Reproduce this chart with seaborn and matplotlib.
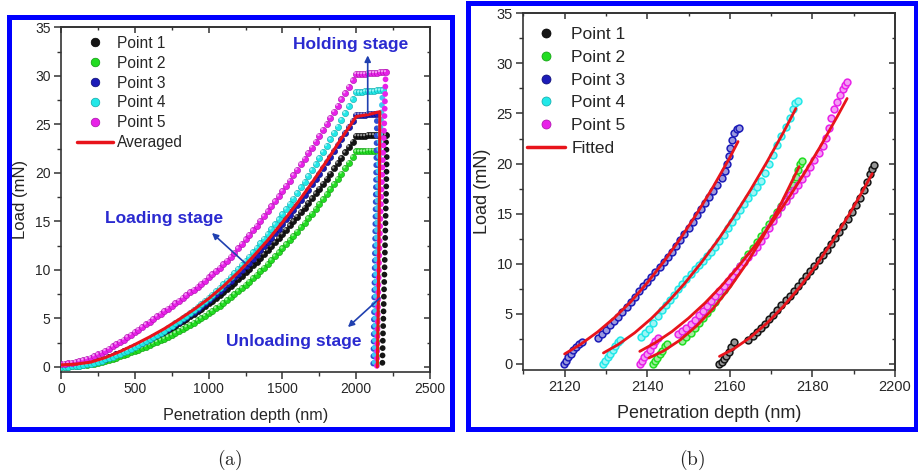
import matplotlib
matplotlib.use("Agg")
import matplotlib.pyplot as plt
import matplotlib.transforms as mtransforms
from matplotlib.lines import Line2D
from matplotlib.patches import Rectangle
from matplotlib.ticker import MultipleLocator
from matplotlib.colors import to_rgb
import seaborn as sns

sns.set_theme(style="white")
plt.rcParams["font.family"] = ["Liberation Sans", "DejaVu Sans"]
plt.rcParams["mathtext.fontset"] = "cm"

# ---------------- data : panel (a) ----------------
SERIES = ["Point 1", "Point 2", "Point 3", "Point 4", "Point 5"]

DEPTH = [0, 25, 50, 75, 100, 125, 150, 175, 200, 225, 250, 275, 300, 325, 350, 375, 400,
         425, 450, 475, 500, 525, 550, 575, 600, 625, 650, 675, 700, 725, 750, 775, 800,
         825, 850, 875, 900, 925, 950, 975, 1000, 1025, 1050, 1075, 1100, 1125, 1150,
         1175, 1200, 1225, 1250, 1275, 1300, 1325, 1350, 1375, 1400, 1425, 1450, 1475,
         1500, 1525, 1550, 1575, 1600, 1625, 1650, 1675, 1700, 1725, 1750, 1775, 1800,
         1825, 1850, 1875, 1900, 1925, 1950, 1975, 2000]
LOAD_P1 = [0.10, 0.10, 0.12, 0.15, 0.19, 0.24, 0.30, 0.37, 0.45, 0.54, 0.64, 0.75, 0.86,
           1.00, 1.14, 1.28, 1.44, 1.59, 1.75, 1.92, 2.09, 2.26, 2.44, 2.63, 2.81, 3.00,
           3.20, 3.40, 3.60, 3.81, 4.03, 4.26, 4.49, 4.72, 4.96, 5.21, 5.46, 5.72, 5.98,
           6.25, 6.53, 6.82, 7.11, 7.41, 7.72, 8.04, 8.37, 8.69, 9.03, 9.38, 9.74, 10.09,
           10.46, 10.84, 11.23, 11.61, 12.01, 12.42, 12.84, 13.25, 13.68, 14.12, 14.57,
           15.01, 15.47, 15.94, 16.41, 16.88, 17.37, 17.87, 18.38, 18.88, 19.40, 19.92,
           20.46, 20.99, 21.54, 22.10, 22.66, 23.22, 23.80]
LOAD_P2 = [0.00, 0.00, 0.02, 0.04, 0.07, 0.11, 0.15, 0.21, 0.27, 0.34, 0.42, 0.51, 0.61,
           0.72, 0.83, 0.96, 1.09, 1.22, 1.35, 1.49, 1.64, 1.78, 1.93, 2.09, 2.25, 2.41,
           2.58, 2.75, 2.92, 3.10, 3.29, 3.49, 3.70, 3.90, 4.11, 4.33, 4.55, 4.78, 5.01,
           5.26, 5.50, 5.76, 6.04, 6.30, 6.59, 6.88, 7.18, 7.49, 7.80, 8.13, 8.46, 8.79,
           9.14, 9.50, 9.87, 10.23, 10.61, 11.00, 11.40, 11.80, 12.21, 12.63, 13.07, 13.50,
           13.94, 14.40, 14.86, 15.32, 15.80, 16.29, 16.79, 17.28, 17.80, 18.32, 18.85,
           19.38, 19.93, 20.49, 21.05, 21.62, 22.20]
LOAD_P3 = [0.10, 0.10, 0.12, 0.15, 0.19, 0.24, 0.30, 0.37, 0.44, 0.53, 0.63, 0.74, 0.86,
           1.00, 1.14, 1.29, 1.45, 1.61, 1.77, 1.94, 2.12, 2.30, 2.49, 2.68, 2.87, 3.08,
           3.29, 3.50, 3.71, 3.94, 4.17, 4.41, 4.66, 4.91, 5.16, 5.43, 5.70, 5.98, 6.26,
           6.56, 6.85, 7.17, 7.49, 7.81, 8.15, 8.50, 8.86, 9.22, 9.59, 9.97, 10.36, 10.75,
           11.16, 11.58, 12.00, 12.43, 12.87, 13.32, 13.78, 14.23, 14.71, 15.20, 15.69,
           16.18, 16.69, 17.21, 17.74, 18.26, 18.81, 19.36, 19.93, 20.49, 21.07, 21.66,
           22.25, 22.85, 23.46, 24.09, 24.72, 25.35, 26.00]
LOAD_P4 = [0.00, 0.00, 0.02, 0.05, 0.08, 0.13, 0.19, 0.26, 0.33, 0.43, 0.53, 0.64, 0.76,
           0.90, 1.04, 1.19, 1.35, 1.51, 1.68, 1.86, 2.05, 2.24, 2.43, 2.64, 2.84, 3.05,
           3.27, 3.49, 3.72, 3.96, 4.21, 4.47, 4.73, 5.00, 5.27, 5.56, 5.85, 6.16, 6.46,
           6.78, 7.10, 7.44, 7.79, 8.14, 8.51, 8.89, 9.28, 9.67, 10.08, 10.50, 10.93, 11.36,
           11.80, 12.26, 12.73, 13.20, 13.68, 14.18, 14.68, 15.19, 15.72, 16.25, 16.80,
           17.35, 17.91, 18.49, 19.07, 19.66, 20.27, 20.88, 21.51, 22.13, 22.78, 23.44,
           24.11, 24.77, 25.46, 26.16, 26.86, 27.57, 28.30]
LOAD_P5 = [0.30, 0.32, 0.36, 0.42, 0.49, 0.59, 0.69, 0.81, 0.95, 1.11, 1.28, 1.46, 1.65,
           1.87, 2.10, 2.33, 2.57, 2.81, 3.06, 3.31, 3.57, 3.84, 4.10, 4.37, 4.64, 4.93,
           5.21, 5.48, 5.74, 6.01, 6.28, 6.55, 6.83, 7.11, 7.39, 7.68, 7.97, 8.27, 8.57,
           8.89, 9.21, 9.54, 9.87, 10.22, 10.57, 10.95, 11.34, 11.78, 12.22, 12.67, 13.13,
           13.59, 14.07, 14.55, 15.04, 15.53, 16.03, 16.54, 17.06, 17.58, 18.12, 18.66,
           19.19, 19.75, 20.31, 20.87, 21.45, 22.04, 22.61, 23.21, 23.82, 24.43, 25.04,
           25.66, 26.29, 26.92, 27.57, 28.21, 28.87, 29.53, 30.20]

HOLD_D_P1 = [2020, 2040, 2060, 2080, 2100, 2120, 2140, 2160, 2180, 2200]
HOLD_L_P1 = [23.8, 23.8, 23.8, 23.9, 23.9, 23.9, 23.9, 23.9, 23.9, 23.9]
HOLD_D_P2 = [2020, 2040, 2060, 2080, 2100, 2120, 2140]
HOLD_L_P2 = [22.2, 22.2, 22.2, 22.3, 22.3, 22.3, 22.3]
HOLD_D_P3 = [2020, 2040, 2060, 2080, 2100, 2120, 2140]
HOLD_L_P3 = [26.0, 26.0, 26.0, 26.1, 26.1, 26.1, 26.1]
HOLD_D_P4 = [2020, 2040, 2060, 2080, 2100, 2120, 2140, 2160, 2180]
HOLD_L_P4 = [28.3, 28.3, 28.4, 28.4, 28.4, 28.4, 28.5, 28.5, 28.5]
HOLD_D_P5 = [2020, 2040, 2060, 2080, 2100, 2120, 2140, 2160, 2180, 2200]
HOLD_L_P5 = [30.2, 30.2, 30.2, 30.3, 30.3, 30.3, 30.3, 30.4, 30.4, 30.4]

UNL_D_P1 = [2200, 2207, 2204, 2200, 2196, 2192, 2188, 2184, 2180, 2177]
UNL_L_P1 = [23.9, 21.8, 19.0, 16.0, 13.0, 10.0, 7.5, 5.0, 2.5, 0.0]
UNL_D_P2 = [2140, 2150, 2150, 2148, 2146, 2144, 2142, 2140]
UNL_L_P2 = [22.3, 20.0, 17.0, 14.0, 11.0, 8.0, 4.0, 0.0]
UNL_D_P3 = [2140, 2140, 2137, 2134, 2131, 2128, 2125, 2122, 2119, 2117, 2115]
UNL_L_P3 = [26.1, 25.0, 22.0, 19.0, 16.0, 13.0, 10.0, 7.0, 4.0, 1.5, 0.0]
UNL_D_P4 = [2180, 2170, 2158, 2150, 2145, 2140, 2136, 2132, 2128, 2124]
UNL_L_P4 = [28.5, 26.0, 23.0, 20.0, 17.0, 14.0, 11.0, 7.5, 4.0, 0.0]
UNL_D_P5 = [2200, 2196, 2190, 2182, 2174, 2166, 2158, 2151, 2145, 2140]
UNL_L_P5 = [30.4, 28.0, 25.0, 22.0, 19.0, 16.0, 12.5, 8.5, 4.5, 0.0]

AVG_D = [0, 100, 200, 300, 400, 500, 600, 700, 800, 900, 1000, 1100, 1200, 1300, 1400,
         1500, 1600, 1700, 1800, 1900, 2000, 2080, 2160, 2158, 2154, 2150, 2146, 2143]
AVG_L = [0.2, 0.28, 0.48, 0.95, 1.58, 2.30, 3.08, 3.93, 4.89, 5.91, 7.03, 8.31, 9.74,
         11.33, 13.04, 14.89, 16.86, 18.97, 21.22, 23.55, 25.8, 26.0, 26.3, 20.0, 13.0,
         7.0, 3.0, 0.0]

# ---------------- data : panel (b) ----------------
R_D_P1 = [2157.5, 2158.0, 2158.6, 2159.2, 2159.8, 2160.4, 2161.0, 2164.5, 2165.5, 2166.5,
          2167.5, 2168.5, 2169.5, 2170.5, 2171.5, 2172.5, 2173.5, 2174.5, 2175.5, 2176.5,
          2177.5, 2178.5, 2179.5, 2180.5, 2181.5, 2182.5, 2183.5, 2184.5, 2185.5, 2186.5,
          2187.5, 2188.5, 2189.5, 2190.5, 2191.5, 2192.5, 2193.3, 2194.0, 2194.5, 2194.9]
R_L_P1 = [0.0, 0.2, 0.45, 0.8, 1.2, 1.7, 2.2, 2.4, 2.8, 3.2, 3.6, 4.0, 4.5, 4.9, 5.4, 5.9,
          6.4, 6.8, 7.3, 7.8, 8.3, 8.8, 9.3, 9.8, 10.4, 10.9, 11.4, 12.0, 12.6, 13.2, 13.8,
          14.5, 15.2, 15.9, 16.6, 17.4, 18.2, 19.0, 19.5, 19.9]
R_D_P2 = [2141.3, 2141.8, 2142.4, 2143.0, 2143.6, 2144.3, 2144.9, 2148.5, 2149.5, 2150.5,
          2151.5, 2152.5, 2153.5, 2154.5, 2155.5, 2156.5, 2157.5, 2158.5, 2159.5, 2160.5,
          2161.5, 2162.5, 2163.5, 2164.5, 2165.5, 2166.5, 2167.5, 2168.5, 2169.5, 2170.5,
          2171.5, 2172.5, 2173.5, 2174.5, 2175.3, 2176.0, 2176.6, 2177.1, 2177.6]
R_L_P2 = [0.0, 0.3, 0.6, 0.95, 1.3, 1.75, 2.0, 2.3, 2.7, 3.1, 3.6, 4.1, 4.6, 5.1, 5.6, 6.2,
          6.8, 7.4, 8.0, 8.6, 9.2, 9.8, 10.4, 11.0, 11.6, 12.2, 12.8, 13.4, 14.0, 14.6, 15.2,
          15.8, 16.5, 17.2, 17.9, 18.7, 19.4, 20.0, 20.3]
R_D_P3 = [2119.8, 2120.3, 2120.9, 2121.5, 2122.1, 2122.8, 2123.5, 2124.1, 2128, 2129, 2130,
          2131, 2132, 2133, 2134, 2135, 2136, 2137, 2138, 2139, 2140, 2141, 2142, 2143, 2144,
          2145, 2146, 2147, 2148, 2149, 2150, 2151, 2152, 2153, 2154, 2155, 2156, 2157, 2158,
          2158.8, 2159.3, 2159.7, 2160.1, 2160.5, 2161.0, 2161.7, 2162.3]
R_L_P3 = [0.0, 0.3, 0.65, 1.0, 1.35, 1.7, 2.0, 2.2, 2.6, 3.0, 3.4, 3.9, 4.3, 4.7, 5.2, 5.7,
          6.2, 6.7, 7.3, 7.8, 8.2, 8.7, 9.2, 9.7, 10.2, 10.7, 11.2, 11.8, 12.4, 13.0, 13.6,
          14.2, 14.9, 15.5, 16.1, 16.7, 17.3, 17.9, 18.6, 19.3, 20.0, 20.8, 21.6, 22.4, 23.1,
          23.5, 23.6]
R_D_P4 = [2129.4, 2129.9, 2130.5, 2131.1, 2131.7, 2132.3, 2132.9, 2133.3, 2138.5, 2139.5,
          2140.5, 2141.5, 2142.5, 2143.5, 2144.5, 2145.5, 2146.5, 2147.5, 2148.5, 2149.5,
          2150.5, 2151.5, 2152.5, 2153.5, 2154.5, 2155.5, 2156.5, 2157.5, 2158.5, 2159.5,
          2160.5, 2161.5, 2162.5, 2163.5, 2164.5, 2165.5, 2166.5, 2167.5, 2168.5, 2169.5,
          2170.5, 2171.5, 2172.5, 2173.5, 2174.5, 2175.3, 2175.9, 2176.4]
R_L_P4 = [0.0, 0.3, 0.65, 1.0, 1.4, 1.8, 2.15, 2.35, 2.7, 3.1, 3.5, 4.1, 4.8, 5.4, 5.9, 6.4,
          6.9, 7.5, 8.0, 8.5, 9.0, 9.5, 9.9, 10.3, 10.8, 11.2, 11.7, 12.3, 12.9, 13.6, 14.2,
          14.8, 15.4, 16.0, 16.6, 17.2, 17.7, 18.3, 19.1, 20.0, 20.9, 21.9, 22.8, 23.7, 24.6,
          25.4, 26.0, 26.2]
R_D_P5 = [2138.2, 2138.7, 2139.3, 2139.9, 2140.6, 2141.3, 2142.0, 2142.7, 2147.5, 2148.5,
          2149.5, 2150.5, 2151.5, 2152.5, 2153.5, 2154.5, 2155.5, 2156.5, 2157.5, 2158.5,
          2159.5, 2160.5, 2161.5, 2162.5, 2163.5, 2164.5, 2165.5, 2166.5, 2167.5, 2168.5,
          2169.5, 2170.5, 2171.5, 2172.5, 2173.5, 2174.5, 2175.5, 2176.5, 2177.5, 2178.5,
          2179.5, 2180.5, 2181.5, 2182.5, 2183.3, 2184.0, 2184.6, 2185.2, 2186.0, 2186.8,
          2187.5, 2188.0, 2188.4]
R_L_P5 = [0.0, 0.3, 0.65, 1.0, 1.4, 1.85, 2.25, 2.6, 3.0, 3.3, 3.6, 4.0, 4.4, 4.9, 5.3, 5.8,
          6.3, 6.8, 7.3, 7.8, 8.3, 8.8, 9.3, 9.8, 10.2, 10.7, 11.2, 11.7, 12.3, 12.9, 13.6,
          14.3, 15.0, 15.7, 16.3, 16.9, 17.4, 17.9, 18.5, 19.1, 19.7, 20.4, 21.1, 21.8, 22.6,
          23.6, 24.6, 25.4, 26.1, 26.8, 27.4, 27.8, 28.1]

FIT_D_P1 = [2157.5, 2161, 2165, 2169, 2173, 2177, 2181, 2185, 2189, 2192, 2194.5]
FIT_L_P1 = [0.76, 1.52, 2.66, 4.08, 5.76, 7.71, 9.90, 12.32, 14.99, 17.15, 19.0]
FIT_D_P2 = [2140.4, 2144, 2148, 2152, 2156, 2160, 2164, 2168, 2172, 2176.8]
FIT_L_P2 = [0.60, 1.31, 2.40, 3.82, 5.55, 7.62, 9.99, 12.67, 15.68, 19.7]
FIT_D_P3 = [2120, 2124, 2128, 2132, 2136, 2140, 2144, 2148, 2152, 2156, 2160, 2162]
FIT_L_P3 = [1.0, 2.0, 3.2, 4.6, 6.2, 8.1, 10.2, 12.5, 15.0, 17.7, 20.6, 22.2]
FIT_D_P4 = [2129.4, 2133, 2137, 2141, 2145, 2149, 2153, 2157, 2161, 2165, 2169, 2173, 2176]
FIT_L_P4 = [1.10, 1.95, 3.12, 4.54, 6.17, 8.01, 10.06, 12.30, 14.73, 17.36, 20.17, 23.13, 25.5]
FIT_D_P5 = [2138.2, 2142, 2146, 2150, 2154, 2158, 2162, 2166, 2170, 2174, 2178, 2182, 2186, 2188.4]
FIT_L_P5 = [1.26, 2.13, 3.24, 4.57, 6.09, 7.80, 9.69, 11.76, 14.00, 16.42, 19.01, 21.76, 24.68, 26.5]

# ---------------- style ----------------
COLORS = ["#151515", "#22dd22", "#1c1cb8", "#22e8e8", "#e822e8"]
EDGES = ["#000000", "#0f990f", "#0a0a70", "#10a8a8", "#a810a8"]
UNLOAD_COLORS = ["#151515", "#22dd22", "#3050d0", "#40c8f0", "#e822e8"]
RED = "#e8141b"
ANNO_TXT = "#2a2ad0"
ANNO_ARW = "#2040b0"
FRAME = "#0000ff"

W, H = 918, 474
fig = plt.figure(figsize=(W / 100, H / 100), dpi=100)
fig.patch.set_facecolor("white")
axA = fig.add_axes([61 / W, 1 - 371.7 / H, 369 / W, 344.4 / H])
axB = fig.add_axes([523.3 / W, 1 - 370 / H, 371.7 / W, 356.7 / H])


def lighten(c, f):
    r, g, b = to_rgb(c)
    return (r + (1 - r) * f, g + (1 - g) * f, b + (1 - b) * f)


def hl_transform(ax):
    return mtransforms.offset_copy(ax.transData, fig=fig, x=-0.9, y=0.9, units="dots")


# ---- panel (a)
loads = [LOAD_P1, LOAD_P2, LOAD_P3, LOAD_P4, LOAD_P5]
hold_d = [HOLD_D_P1, HOLD_D_P2, HOLD_D_P3, HOLD_D_P4, HOLD_D_P5]
hold_l = [HOLD_L_P1, HOLD_L_P2, HOLD_L_P3, HOLD_L_P4, HOLD_L_P5]
unl_d = [UNL_D_P1, UNL_D_P2, UNL_D_P3, UNL_D_P4, UNL_D_P5]
unl_l = [UNL_L_P1, UNL_L_P2, UNL_L_P3, UNL_L_P4, UNL_L_P5]

for i in range(5):
    z = 3 + i
    sns.lineplot(x=unl_d[i], y=unl_l[i], ax=axA, sort=False, estimator=None,
                 color=UNLOAD_COLORS[i], linewidth=4.2, linestyle=(0, (0.01, 1.25)),
                 dash_capstyle="round", legend=False, zorder=z)
    for xs, ys in ((DEPTH, loads[i]), (hold_d[i], hold_l[i])):
        sns.scatterplot(x=xs, y=ys, ax=axA, color=COLORS[i], edgecolor=EDGES[i],
                        linewidth=0.4, s=20, legend=False, zorder=z)
        sns.scatterplot(x=xs, y=ys, ax=axA, color="white", edgecolor="none",
                        alpha=0.55, s=3, legend=False, zorder=z,
                        transform=hl_transform(axA))

sns.lineplot(x=AVG_D, y=AVG_L, ax=axA, sort=False, estimator=None, color=RED,
             linewidth=2.2, legend=False, zorder=12)

# ---- panel (b)
r_d = [R_D_P1, R_D_P2, R_D_P3, R_D_P4, R_D_P5]
r_l = [R_L_P1, R_L_P2, R_L_P3, R_L_P4, R_L_P5]
f_d = [FIT_D_P1, FIT_D_P2, FIT_D_P3, FIT_D_P4, FIT_D_P5]
f_l = [FIT_L_P1, FIT_L_P2, FIT_L_P3, FIT_L_P4, FIT_L_P5]
for i in range(5):
    sns.scatterplot(x=r_d[i], y=r_l[i], ax=axB, color=lighten(COLORS[i], 0.55),
                    edgecolor=COLORS[i], linewidth=1.1, s=24, legend=False, zorder=3 + i)
for i in range(5):
    sns.lineplot(x=f_d[i], y=f_l[i], ax=axB, sort=False, estimator=None, color=RED,
                 linewidth=2.0, legend=False, zorder=12)


def style_axes(ax, xlim, ylim, xmaj, xmin, ymaj, ymin, fs):
    ax.set_xlim(*xlim)
    ax.set_ylim(*ylim)
    ax.xaxis.set_major_locator(MultipleLocator(xmaj))
    ax.xaxis.set_minor_locator(MultipleLocator(xmin))
    ax.yaxis.set_major_locator(MultipleLocator(ymaj))
    ax.yaxis.set_minor_locator(MultipleLocator(ymin))
    ax.tick_params(which="major", direction="out", length=5, width=1.1, color="#333333",
                   labelsize=fs, labelcolor="#262626", bottom=True, left=True,
                   top=False, right=False, pad=2.5)
    ax.tick_params(which="minor", direction="out", length=3, width=1.0, color="#333333",
                   bottom=True, left=True, top=False, right=False)
    for sp in ax.spines.values():
        sp.set_color("#333333")
        sp.set_linewidth(1.2)
    top = ax.secondary_xaxis("top")
    top.xaxis.set_major_locator(MultipleLocator(xmaj))
    top.xaxis.set_minor_locator(MultipleLocator(xmin))
    top.tick_params(which="major", direction="in", length=4, width=1.1, color="#333333",
                    top=True, labeltop=False)
    top.tick_params(which="minor", direction="in", length=2.5, width=1.0, color="#333333",
                    top=True)
    top.spines["top"].set_color("#333333")
    top.spines["top"].set_linewidth(1.2)
    right = ax.secondary_yaxis("right")
    right.yaxis.set_major_locator(MultipleLocator(ymaj))
    right.yaxis.set_minor_locator(MultipleLocator(ymin))
    right.tick_params(which="major", direction="in", length=4, width=1.1, color="#333333",
                      right=True, labelright=False)
    right.tick_params(which="minor", direction="in", length=2.5, width=1.0, color="#333333",
                      right=True)
    right.spines["right"].set_color("#333333")
    right.spines["right"].set_linewidth(1.2)


style_axes(axA, (0, 2500), (-0.5, 35), 500, 250, 5, 2.5, 10)
style_axes(axB, (2110, 2200), (-0.6, 35), 20, 10, 5, 2.5, 10.5)

axA.set_xlabel("Penetration depth (nm)", fontsize=11.6, color="#262626")
axA.set_ylabel("Load (mN)", fontsize=12, color="#262626")
axB.set_xlabel("Penetration depth (nm)", fontsize=13, color="#262626")
axB.set_ylabel("Load (mN)", fontsize=13, color="#262626")
axA.xaxis.set_label_coords(0.5, -0.104)
axA.yaxis.set_label_coords(-0.089, 0.5)
axB.xaxis.set_label_coords(0.5, -0.098)
axB.yaxis.set_label_coords(-0.087, 0.5)

# legends
hA = [Line2D([0], [0], marker="o", ls="none", markersize=6.2, markerfacecolor=c,
             markeredgecolor=e, markeredgewidth=0.5) for c, e in zip(COLORS, EDGES)]
hA.append(Line2D([0], [0], color=RED, lw=2.5))
axA.legend(hA, SERIES + ["Averaged"], loc="upper left", bbox_to_anchor=(0.043, 0.975),
           frameon=False, fontsize=11.2, handlelength=2.3, handletextpad=0.3,
           labelspacing=0.31, borderpad=0, borderaxespad=0, labelcolor="#262626")
hB = [Line2D([0], [0], marker="o", ls="none", markersize=6.5, markerfacecolor=c,
             markeredgecolor=e, markeredgewidth=0.5) for c, e in zip(COLORS, EDGES)]
hB.append(Line2D([0], [0], color=RED, lw=2.5))
axB.legend(hB, SERIES + ["Fitted"], loc="upper left", bbox_to_anchor=(0.01, 0.962),
           frameon=False, fontsize=12.5, handlelength=2.2, handletextpad=0.35,
           labelspacing=0.44, borderpad=0, borderaxespad=0, labelcolor="#262626")

# annotations (panel a)
arw = dict(arrowstyle="-|>", color=ANNO_ARW, lw=1.2, mutation_scale=9, shrinkA=0, shrinkB=0)
axA.annotate("", xy=(2078, 32.1), xytext=(2078, 26.15), arrowprops=arw, zorder=15)
axA.text(1965, 33.2, "Holding stage", ha="center", va="center", fontsize=12.5,
         fontweight="bold", color=ANNO_TXT, zorder=15)
axA.annotate("", xy=(1023, 13.8), xytext=(1247, 10.7), arrowprops=arw, zorder=15)
axA.text(698, 15.3, "Loading stage", ha="center", va="center", fontsize=12.5,
         fontweight="bold", color=ANNO_TXT, zorder=15)
axA.annotate("", xy=(1944, 4.1), xytext=(2161, 7.1), arrowprops=arw, zorder=15)
axA.text(1575, 2.6, "Unloading stage", ha="center", va="center", fontsize=12.5,
         fontweight="bold", color=ANNO_TXT, zorder=15)

# blue frames around panels
lw_pt = 5 * 0.72
fig.add_artist(Rectangle((8.5 / W, 1 - 428.8 / H), (451.5 - 8.5) / W, (428.8 - 16.5) / H,
                         transform=fig.transFigure, fill=False, edgecolor=FRAME,
                         linewidth=lw_pt))
fig.add_artist(Rectangle((467.5 / W, 1 - 428.8 / H), (915.5 - 467.5) / W, (428.8 - 2.5) / H,
                         transform=fig.transFigure, fill=False, edgecolor=FRAME,
                         linewidth=lw_pt))

# captions
fig.text(230 / W, 1 - 460 / H, r"$\mathrm{(a)}$", ha="center", va="center", fontsize=14)
fig.text(692 / W, 1 - 460 / H, r"$\mathrm{(b)}$", ha="center", va="center", fontsize=14)

fig.savefig("out.png", dpi=100, facecolor="white")
